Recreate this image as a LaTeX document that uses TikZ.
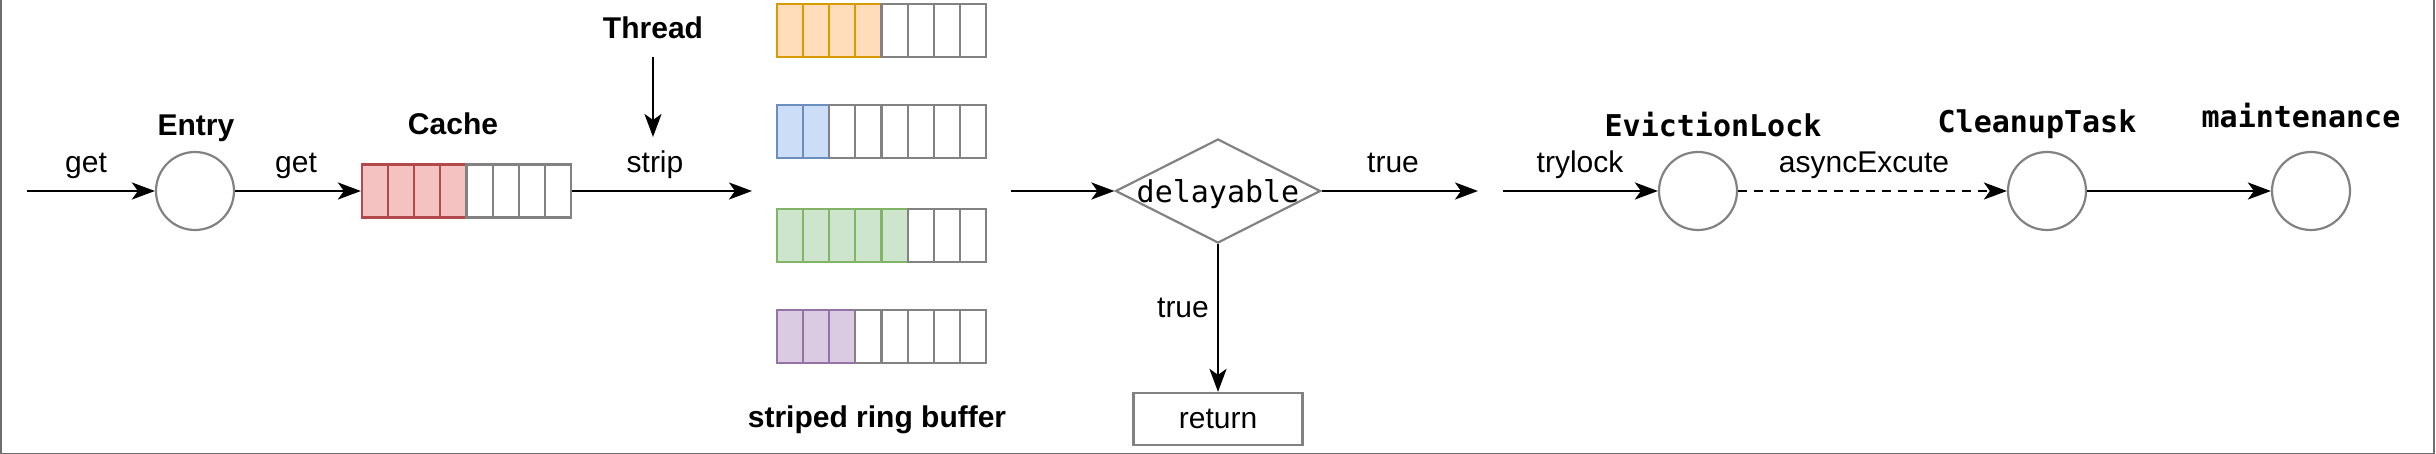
\documentclass[tikz,border=0pt]{standalone}
\usepackage{xcolor}
\usepackage{fontspec}
\setmainfont{Liberation Sans}
\setmonofont{DejaVu Sans Mono}
\usetikzlibrary{arrows.meta,shapes.geometric}

\definecolor{edgegray}{HTML}{828282}
\definecolor{framegray}{HTML}{6E6E6E}
\definecolor{redfill}{HTML}{F5C2C2}
\definecolor{redline}{HTML}{B24A4C}
\definecolor{orangefill}{HTML}{FFDDBB}
\definecolor{orangeline}{HTML}{D79B00}
\definecolor{bluefill}{HTML}{CCDDF8}
\definecolor{blueline}{HTML}{6C8EBF}
\definecolor{greenfill}{HTML}{CCE5CC}
\definecolor{greenline}{HTML}{82B366}
\definecolor{purplefill}{HTML}{DACAE2}
\definecolor{purpleline}{HTML}{9673A6}

\begin{document}
\begin{tikzpicture}[x=1pt,y=-1pt,
    txt/.style={font=\fontsize{30}{36}\selectfont, inner sep=0pt, anchor=base},
    bold/.style={txt, font=\fontsize{30}{36}\selectfont\bfseries},
    code/.style={txt, font=\fontsize{30}{36}\selectfont\ttfamily\bfseries},
    arr/.style={-{Stealth[length=23pt,width=17pt,inset=6pt]}, line width=2.7pt},
    ball/.style={circle, draw=edgegray, line width=2.2pt, minimum size=78pt, inner sep=0pt},
    cell/.style={rectangle, draw=edgegray, line width=2.2pt, minimum width=26.125pt, minimum height=53pt, inner sep=0pt}]
                    \useasboundingbox (0,0) rectangle (2436,454);
                    \draw[framegray, line width=1.5pt] (0.75,0) -- (0.75,453.25) -- (2434,453.25) -- (2434,0);

                    \coordinate (get-in) at (27,191);
                    \node[ball] (entry) at (195,191) {};
                    \node[bold] (entry-lbl) at (196,136) {Entry};
                    \node[txt] (get-a) at (86,173) {get};
                    \node[txt] (get-b) at (296,173) {get};

                    \foreach \i in {1,...,4}
                        \node[cell, fill=redfill, draw=redline] (cache-\i) at ({362+26.125*(\i-0.5)},191) {};
                    \foreach \i in {5,...,8}
                        \node[cell] (cache-\i) at ({362+26.125*(\i-0.5)},191) {};
                    \node[bold] (cache-lbl) at (453,135) {Cache};

                    \node[bold] (thread) at (653,39) {Thread};
                    \coordinate (thread-in) at (653,137);
                    \node[txt] (strip) at (655,173) {strip};
                    \coordinate (strip-in) at (752,191);

                    \foreach \r/\yy/\n/\fc/\lc in {a/30.5/4/orangefill/orangeline, b/131.5/2/bluefill/blueline,
                                                   c/235.5/5/greenfill/greenline, d/336.5/3/purplefill/purpleline} {
                        \pgfmathtruncatemacro\m{\n+1}
                        \foreach \i in {1,...,\n}
                            \node[cell, fill=\fc, draw=\lc] (buf-\r-\i) at ({777+26.125*(\i-0.5)},\yy) {};
                        \foreach \i in {\m,...,8}
                            \node[cell] (buf-\r-\i) at ({777+26.125*(\i-0.5)},\yy) {};
                    }
                    \node[bold] (buf-lbl) at (877,427) {striped ring buffer};
                    \coordinate (buf-out) at (1011,191);

                    \node[diamond, draw=edgegray, line width=2.2pt, minimum width=205pt, minimum height=104pt, inner sep=0pt,
                          label={[font=\fontsize{30}{36}\selectfont\ttfamily, inner sep=0pt, yshift=-3pt]center:delayable}] (check) at (1218,191) {};
                    \node[rectangle, draw=edgegray, line width=2.2pt, minimum width=169pt, minimum height=52pt,
                          font=\fontsize{30}{36}\selectfont] (ret) at (1218,419) {return};
                    \node[txt] (true-a) at (1183,318) {true};
                    \node[txt] (true-b) at (1393,173) {true};
                    \coordinate (true-out) at (1478,191);

                    \coordinate (lock-in) at (1503,191);
                    \node[txt] (trylock) at (1580,173) {trylock};
                    \node[ball] (lock) at (1698,191) {};
                    \node[code] (lock-lbl) at (1713,137) {EvictionLock};
                    \node[txt] (async) at (1864,173) {asyncExcute};
                    \node[ball] (cleanup) at (2047,191) {};
                    \node[code] (cleanup-lbl) at (2037,133) {CleanupTask};
                    \node[ball] (maint) at (2311,191) {};
                    \node[code] (maint-lbl) at (2301,128) {maintenance};

                    \draw[arr] (get-in) -- (entry);
                    \draw[arr] (entry) -- (cache-1.west);
                    \draw[arr] (cache-8.east) -- (strip-in);
                    \draw[arr, shorten <=18pt] (thread.south) -- (thread-in);
                    \draw[arr] (buf-out) -- (check.west);
                    \draw[arr] (check.south) -- (ret.north);
                    \draw[arr] (check.east) -- (true-out);
                    \draw[arr] (lock-in) -- (lock);
                    \draw[arr, dash pattern=on 9pt off 7pt] (lock) -- (cleanup);
                    \draw[arr] (cleanup) -- (maint);
                \end{tikzpicture}
\end{document}
